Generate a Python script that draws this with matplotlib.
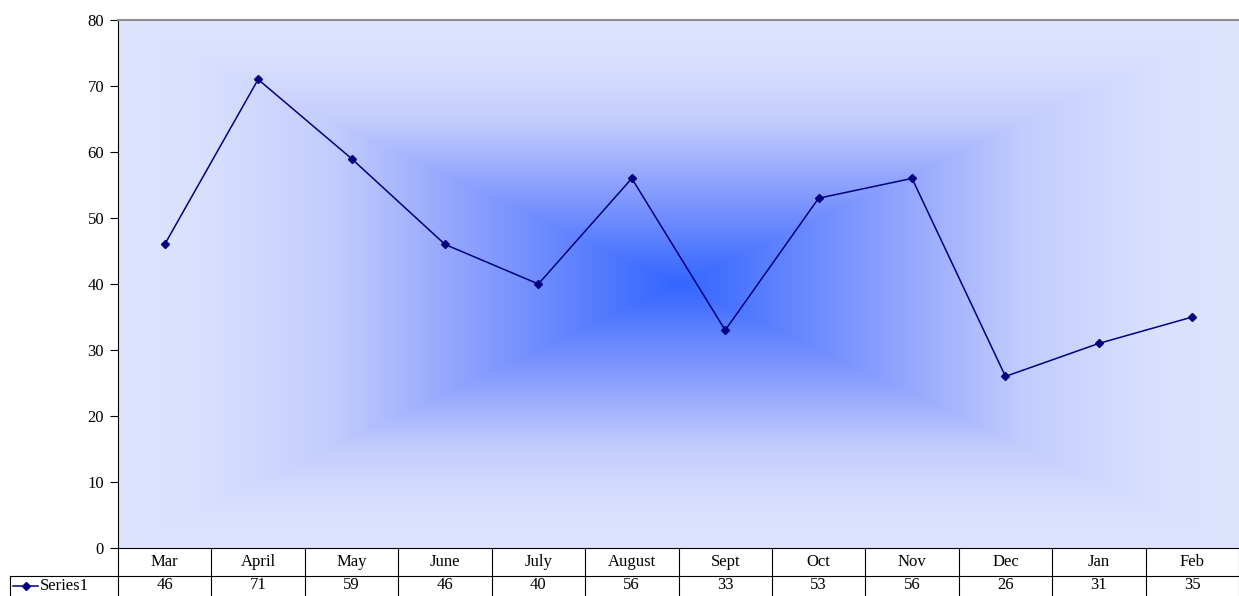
import numpy as np
import matplotlib
matplotlib.use("Agg")
import matplotlib.pyplot as plt
from matplotlib.colors import LinearSegmentedColormap
from matplotlib.lines import Line2D
import matplotlib.transforms as mtransforms

categories = ["Mar", "April", "May", "June", "July", "August", "Sept", "Oct", "Nov", "Dec", "Jan", "Feb"]
values = [46, 71, 59, 46, 40, 56, 33, 53, 56, 26, 31, 35]
series_name = "Series1"
yticks = [0, 10, 20, 30, 40, 50, 60, 70, 80]

plt.rcParams['font.family'] = ['Liberation Serif', 'DejaVu Serif']
FS = 12

W, H = 1239, 596
fig = plt.figure(figsize=(W / 100, H / 100), dpi=100)
left_px, right_px, top_px, bot_px = 118, 1239, 20, 548
ax = fig.add_axes([left_px / W, 1 - bot_px / H, (right_px - left_px) / W, (bot_px - top_px) / H])

n = len(categories)
ax.set_xlim(0, n)
ax.set_ylim(0, 80)

# rectangular gradient from centre
nx, ny = 800, 400
u = np.linspace(-1, 1, nx)
v = np.linspace(-1, 1, ny)
U, V = np.meshgrid(u, v)
T = np.maximum(np.abs(U), np.abs(V))
nodes = [(0.0, (51, 102, 255)), (0.12, (80, 120, 255)), (0.37, (140, 160, 254)),
         (0.62, (195, 205, 253)), (0.85, (217, 224, 254)), (1.0, (222, 228, 253))]
cmap = LinearSegmentedColormap.from_list("g", [(p, tuple(c / 255 for c in col)) for p, col in nodes])
ax.imshow(T, cmap=cmap, extent=[0, n, 0, 80], aspect="auto", zorder=0, interpolation="bilinear", vmin=0, vmax=1)

x = np.arange(n) + 0.5
ax.plot(x, values, color="#000080", lw=1.1, marker="D", ms=4.5, mfc="#000080", mec="#000080", zorder=3)

ax.set_yticks(yticks)
ax.set_yticklabels([str(t) for t in yticks], fontsize=FS)
ax.tick_params(axis="y", length=6, width=0.8, pad=4, direction="out")
ax.set_xticks([])
for s in ["right", "bottom"]:
    ax.spines[s].set_visible(False)
ax.spines["top"].set_color("#909090")
ax.spines["top"].set_linewidth(1.5)
ax.spines["left"].set_color("black")
ax.spines["left"].set_linewidth(0.8)

# data table below the axes
trans = mtransforms.blended_transform_factory(ax.transData, ax.transAxes)
h = bot_px - top_px
row1_bot = -(576 - bot_px) / h
row2_bot = -(597 - bot_px) / h
lw = 0.8
ax.plot([0, n], [0, 0], transform=trans, color="black", lw=lw, clip_on=False, zorder=5)
for i in range(n + 1):
    ax.plot([i, i], [0, row2_bot], transform=trans, color="black", lw=lw, clip_on=False)
# legend cell
fig_tr = fig.transFigure
y_row1 = 1 - 576 / H
y_bot = 1 - 596 / H
fig.add_artist(Line2D([10 / W, right_px / W], [y_row1, y_row1], color="black", lw=lw, transform=fig_tr))
fig.add_artist(Line2D([10 / W, 10 / W], [y_row1, y_bot], color="black", lw=lw, transform=fig_tr))
ymid2 = 1 - 586 / H
fig.add_artist(Line2D([13 / W, 38 / W], [ymid2, ymid2], color="#000080", lw=1.1, transform=fig_tr))
fig.add_artist(Line2D([25.5 / W], [ymid2], color="#000080", marker="D", ms=4.5, transform=fig_tr))
fig.text(40 / W, ymid2, series_name, fontsize=FS, va="center", ha="left")

for i, (c, val) in enumerate(zip(categories, values)):
    ax.text(i + 0.5, row1_bot / 2, c, transform=trans, ha="center", va="center", fontsize=FS)
    ax.text(i + 0.5, (row1_bot + row2_bot) / 2 + 0.002, str(val), transform=trans, ha="center", va="center", fontsize=FS)

fig.savefig("out.png", dpi=100)
